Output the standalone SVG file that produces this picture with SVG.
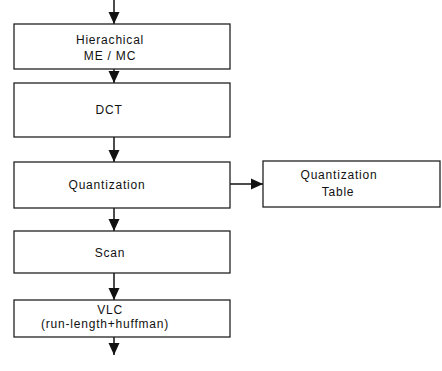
<svg xmlns="http://www.w3.org/2000/svg" width="442" height="371" viewBox="0 0 442 371">
<style>
.box{fill:#fff;stroke:#222;stroke-width:1.3}
.t{font-family:"Liberation Sans",Arial,sans-serif;font-size:12px;letter-spacing:0.8px;fill:#111;text-anchor:middle}
.c{stroke:#111;stroke-width:1.5;fill:none}
</style>
<defs>
<marker id="ah" markerWidth="13" markerHeight="12" refX="12" refY="6" orient="auto" markerUnits="userSpaceOnUse">
<path d="M0,0.5 L12,6 L0,11.5 Z" fill="#111"/>
</marker>
</defs>
<rect width="442" height="371" fill="#fff"/>
<g id="connectors">
<line class="c" x1="114" y1="0" x2="114" y2="24" marker-end="url(#ah)"/>
<line class="c" x1="114" y1="69" x2="114" y2="83" marker-end="url(#ah)"/>
<line class="c" x1="114" y1="137" x2="114" y2="162" marker-end="url(#ah)"/>
<line class="c" x1="114" y1="208" x2="114" y2="231" marker-end="url(#ah)"/>
<line class="c" x1="114" y1="273" x2="114" y2="300" marker-end="url(#ah)"/>
<line class="c" x1="114" y1="337" x2="114" y2="355" marker-end="url(#ah)"/>
<line class="c" x1="230" y1="184" x2="263" y2="184" marker-end="url(#ah)"/>
</g>
<g id="me-mc">
<rect class="box" x="14" y="24" width="216" height="45"/>
<text class="t" x="110" y="44">Hierachical</text>
<text class="t" x="110" y="60">ME / MC</text>
</g>
<g id="dct">
<rect class="box" x="14" y="83" width="216" height="54"/>
<text class="t" x="109" y="114">DCT</text>
</g>
<g id="quantization">
<rect class="box" x="14" y="162" width="216" height="46"/>
<text class="t" x="107" y="189">Quantization</text>
</g>
<g id="quant-table">
<rect class="box" x="263" y="161" width="177" height="46"/>
<text class="t" x="339" y="179">Quantization</text>
<text class="t" x="338" y="196">Table</text>
</g>
<g id="scan">
<rect class="box" x="14" y="231" width="216" height="42"/>
<text class="t" x="110" y="257">Scan</text>
</g>
<g id="vlc">
<rect class="box" x="14" y="300" width="216" height="37"/>
<text class="t" x="110" y="314">VLC</text>
<text class="t" x="105" y="328">(run-length+huffman)</text>
</g>
</svg>
